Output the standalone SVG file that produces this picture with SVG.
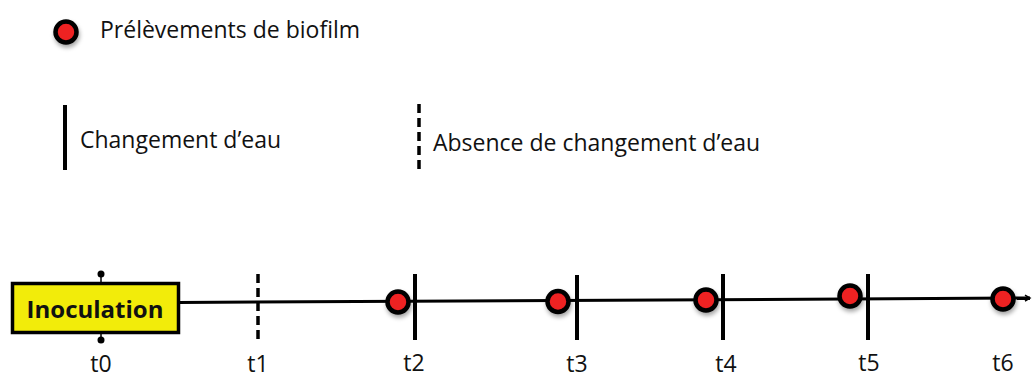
<svg xmlns="http://www.w3.org/2000/svg" width="1035" height="378" viewBox="0 0 1035 378">
<style>
.t{font-family:"Open Sans","Liberation Sans",sans-serif;fill:#111;}
.lbl{font-size:23px;text-anchor:middle;}
.leg{font-size:23px;}
.dot{fill:#EE2024;stroke:#000;stroke-width:4.5;filter:url(#sh);}
.solid{stroke:#000;stroke-width:4;}
.dash{stroke:#000;stroke-width:3.5;stroke-dasharray:9,5;}
</style>
<defs>
<filter id="sh" x="-50%" y="-50%" width="200%" height="200%">
<feDropShadow dx="1" dy="3" stdDeviation="2" flood-color="#000" flood-opacity="0.35"/>
</filter>
<marker id="arr" markerWidth="8" markerHeight="8" refX="6" refY="4" orient="auto" markerUnits="userSpaceOnUse">
<path d="M1,1 L6,4 L1,7" fill="none" stroke="#000" stroke-width="1.5"/>
</marker>
</defs>
<g id="legend">
<circle class="dot" cx="66" cy="32" r="10.5"/>
<text class="t leg" x="100" y="38">Prélèvements de biofilm</text>
<line class="solid" x1="65" y1="105" x2="65" y2="170"/>
<text class="t leg" x="80" y="148">Changement d’eau</text>
<line class="dash" x1="419" y1="104" x2="419" y2="172"/>
<text class="t leg" x="433" y="151">Absence de changement d’eau</text>
</g>
<g id="connectors">
<line x1="178" y1="302.5" x2="1030" y2="298" stroke="#000" stroke-width="3" marker-end="url(#arr)"/>
<line x1="101" y1="274" x2="101" y2="283" stroke="#000" stroke-width="1.5"/>
<circle cx="101" cy="274" r="3.5" fill="#000"/>
<line x1="101" y1="332" x2="101" y2="340" stroke="#000" stroke-width="1.5"/>
<circle cx="101" cy="340" r="3.5" fill="#000"/>
</g>
<g id="inoculation">
<rect x="12.5" y="283.5" width="166" height="49" fill="#F2EC0A" stroke="#000" stroke-width="3.5"/>
<text class="t" x="95" y="318" font-size="24" font-weight="bold" text-anchor="middle">Inoculation</text>
<text class="t lbl" x="101" y="372">t0</text>
</g>
<g id="t1">
<line class="dash" x1="258" y1="274" x2="258" y2="341"/>
<text class="t lbl" x="258" y="372">t1</text>
</g>
<g id="t2">
<line class="solid" x1="415" y1="274" x2="415" y2="340"/>
<circle class="dot" cx="398" cy="302" r="10.5"/>
<text class="t lbl" x="414" y="371">t2</text>
</g>
<g id="t3">
<line class="solid" x1="577" y1="275" x2="577" y2="340"/>
<circle class="dot" cx="558" cy="301.5" r="10.5"/>
<text class="t lbl" x="577" y="372">t3</text>
</g>
<g id="t4">
<line class="solid" x1="723" y1="274" x2="723" y2="340"/>
<circle class="dot" cx="706" cy="300" r="10.5"/>
<text class="t lbl" x="726" y="372">t4</text>
</g>
<g id="t5">
<line class="solid" x1="868" y1="274" x2="868" y2="340"/>
<circle class="dot" cx="850" cy="296" r="10.5"/>
<text class="t lbl" x="869" y="371">t5</text>
</g>
<g id="t6">
<circle class="dot" cx="1003" cy="299" r="10.5"/>
<text class="t lbl" x="1003" y="371">t6</text>
</g>
</svg>
